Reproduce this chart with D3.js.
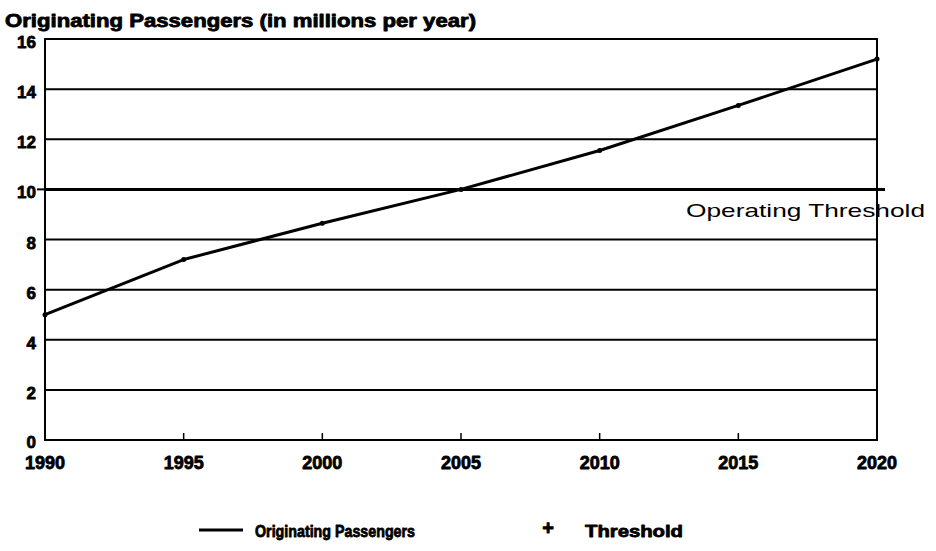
<!DOCTYPE html>
<html><head><meta charset="utf-8">
<script src="https://cdn.jsdelivr.net/npm/d3@7"></script>
<style>body{margin:0;background:#fff}svg{display:block}</style>
</head><body>
<svg id="c" width="936" height="551"></svg>
<script>
const years = [1990, 1995, 2000, 2005, 2010, 2015, 2020];
const passengers = [5.0, 7.2, 8.65, 10.0, 11.55, 13.35, 15.2];
const threshold = [10, 10, 10, 10, 10, 10, 10];
const yTicks = [0, 2, 4, 6, 8, 10, 12, 14, 16];
const xTicks = [1990, 1995, 2000, 2005, 2010, 2015, 2020];
const title = "Originating Passengers (in millions per year)";
const thresholdLabel = "Operating Threshold";
const legendLabels = ["Originating Passengers", "Threshold"];

const svg = d3.select("#c");
const L = 45, R = 877, T = 39, B = 440;
const x = d3.scaleLinear().domain([1990, 2020]).range([L, R]);
const y = d3.scaleLinear().domain([0, 16]).range([B, T]);
const boldFont = "'Liberation Sans', Arial, sans-serif";
function heavy(sel) {
  return sel.attr("font-family", boldFont).attr("font-weight", "bold")
    .attr("stroke", "#000").attr("stroke-width", 0.8).attr("stroke-linejoin", "round");
}

// gridlines
svg.append("g").selectAll("line").data(yTicks.filter(d => d > 0 && d !== 10)).join("line")
  .attr("x1", L).attr("x2", R).attr("y1", d => y(d)).attr("y2", d => y(d))
  .attr("stroke", "#000").attr("stroke-width", 2);

// frame
svg.append("rect").attr("x", L).attr("y", T).attr("width", R - L).attr("height", B - T)
  .attr("fill", "none").attr("stroke", "#000").attr("stroke-width", 2);

// x ticks (inside, upward)
svg.append("g").selectAll("line").data(xTicks.slice(1, -1)).join("line")
  .attr("x1", d => x(d)).attr("x2", d => x(d)).attr("y1", B).attr("y2", B - 7)
  .attr("stroke", "#000").attr("stroke-width", 1.5);

// y tick labels
heavy(svg.append("g").selectAll("text").data(yTicks).join("text"))
  .attr("x", 36).attr("y", d => y(d) + (d === 0 ? 8 : 9)).attr("text-anchor", "end")
  .attr("font-size", 17)
  .text(d => d);
svg.append("line").attr("x1", 37).attr("x2", L).attr("y1", y(10)).attr("y2", y(10))
  .attr("stroke", "#000").attr("stroke-width", 2);

// x tick labels
heavy(svg.append("g").selectAll("text").data(xTicks).join("text"))
  .attr("x", d => x(d)).attr("y", 469).attr("text-anchor", "middle")
  .attr("font-size", 18)
  .text(d => d);

// threshold line
svg.append("path")
  .attr("d", d3.line().x(d => d[0]).y(d => y(d[1]))([[L, 10], [885, 10]]))
  .attr("stroke", "#000").attr("stroke-width", 3).attr("fill", "none");
svg.append("g").selectAll("path").data(years.map((yr, i) => [yr, threshold[i]])).join("path")
  .attr("transform", d => `translate(${x(d[0])},${y(d[1])})`)
  .attr("d", d3.symbol().type(d3.symbolCross).size(3))
  .attr("fill", "#000");

// passengers line
svg.append("path")
  .datum(years.map((yr, i) => [yr, passengers[i]]))
  .attr("d", d3.line().x(d => x(d[0])).y(d => y(d[1])))
  .attr("fill", "none").attr("stroke", "#000").attr("stroke-width", 3).attr("stroke-linejoin", "round");
svg.append("g").selectAll("circle").data(years.map((yr, i) => [yr, passengers[i]])).join("circle")
  .attr("cx", d => x(d[0])).attr("cy", d => y(d[1])).attr("r", 2.5).attr("fill", "#000");

// threshold label
svg.append("text").attr("x", 686).attr("y", 217)
  .attr("font-family", "'Liberation Sans', Arial, sans-serif").attr("font-size", 19)
  .attr("textLength", 239).attr("lengthAdjust", "spacingAndGlyphs")
  .text(thresholdLabel);

// title
heavy(svg.append("text")).attr("x", 5).attr("y", 27)
  .attr("font-size", 18)
  .attr("textLength", 471).attr("lengthAdjust", "spacingAndGlyphs")
  .text(title);

// legend
svg.append("line").attr("x1", 199).attr("x2", 243).attr("y1", 530).attr("y2", 530)
  .attr("stroke", "#000").attr("stroke-width", 3);
heavy(svg.append("text")).attr("x", 255).attr("y", 537)
  .attr("font-size", 17)
  .attr("textLength", 160).attr("lengthAdjust", "spacingAndGlyphs")
  .text(legendLabels[0]);
heavy(svg.append("text")).attr("x", 548).attr("y", 535).attr("text-anchor", "middle")
  .attr("font-size", 20)
  .text("+");
heavy(svg.append("text")).attr("x", 585).attr("y", 537)
  .attr("font-size", 17)
  .attr("textLength", 98).attr("lengthAdjust", "spacingAndGlyphs")
  .text(legendLabels[1]);
</script>
</body></html>
